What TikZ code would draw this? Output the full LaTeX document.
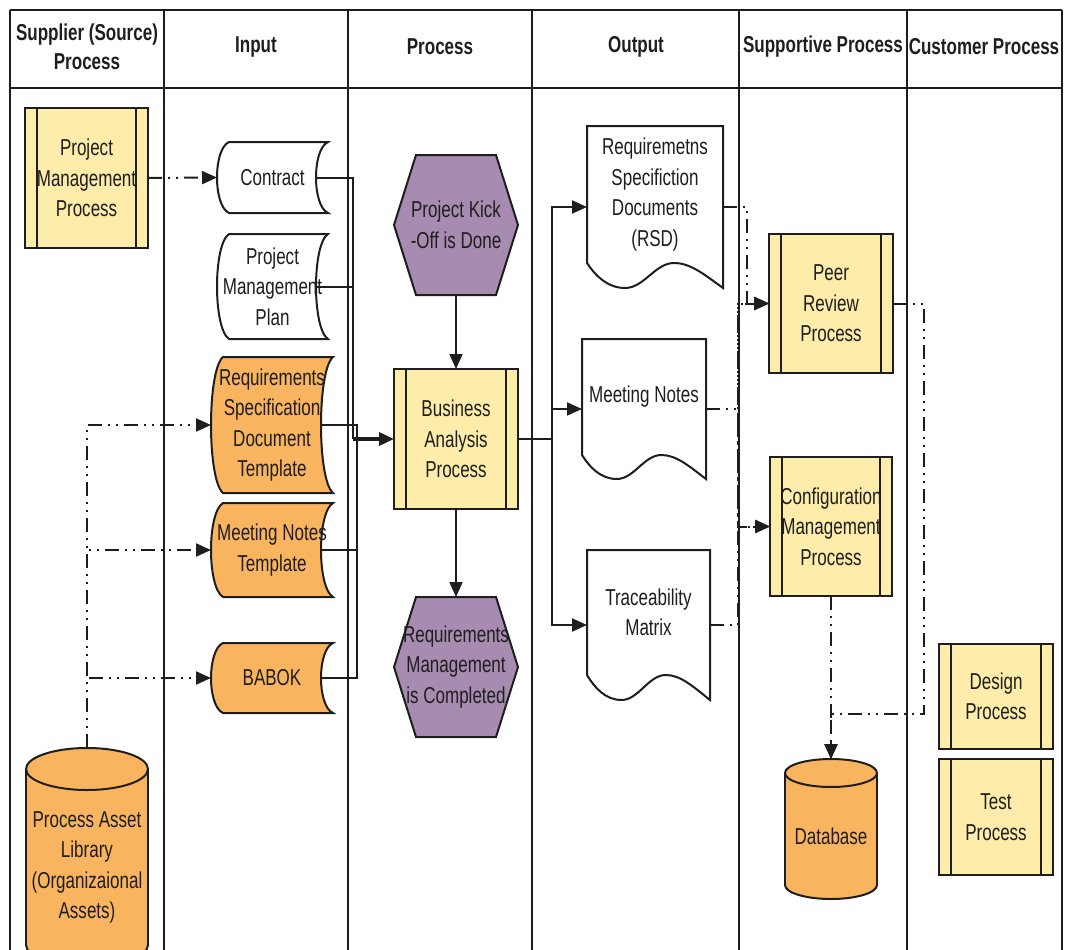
\documentclass[tikz,border=0pt]{standalone}
\usepackage{fontspec}
\setmainfont{Liberation Sans}[FakeStretch=0.74]
\usetikzlibrary{arrows.meta,calc}

\definecolor{subfill}{RGB}{253,236,170}
\definecolor{docorange}{RGB}{249,180,96}
\definecolor{hexpurple}{RGB}{168,139,176}
\definecolor{ink}{RGB}{30,30,30}

\tikzset{
  shapeline/.style={draw=ink, line width=2pt, line join=miter},
  lbl/.style={inner sep=0pt, outer sep=0pt, align=center, text=ink,
    font=\fontsize{23}{30.5}\selectfont},
  lanehead/.style={inner sep=0pt, outer sep=0pt, align=center, text=ink,
    font=\fontsize{23}{29}\selectfont\bfseries},
  lanes/.style={draw=ink, line width=2.2pt},
  wire/.style={draw=ink, line width=2pt},
  flow/.style={wire, -{Triangle[length=15pt,width=13pt]}},
  dd/.style={draw=ink, line width=2pt,
    dash pattern=on 14pt off 6pt on 2pt off 6pt on 2pt off 6pt},
  ddarrow/.style={dd, -{Triangle[length=15pt,width=13pt]}},
}

% subprocess box: name, x1, y1, x2, y2, text
\newcommand\SubProc[6]{%
  \draw[shapeline, fill=subfill] (#2,#3) rectangle (#4,#5);
  \draw[shapeline] ({#2+12},#3) -- ({#2+12},#5) ({#4-12},#3) -- ({#4-12},#5);
  \node[lbl, minimum width={#4-#2}, minimum height={#5-#3}] (#1)
    at ({(#2+#4)/2},{(#3+#5)/2}) {#6};
}
% stored data: name, x1, y1, x2, y2, fill, text
\newcommand\StoreData[7]{%
  \draw[shapeline, fill=#6] ({#2+12},#3) -- (#4,#3)
    .. controls ({#4-16},{#3+0.1*(#5-#3)}) and ({#4-16},{#5-0.1*(#5-#3)}) .. (#4,#5)
    -- ({#2+12},#5)
    .. controls ({#2-4},{#5-0.1*(#5-#3)}) and ({#2-4},{#3+0.1*(#5-#3)}) .. ({#2+12},#3)
    -- cycle;
  \node[lbl, minimum width={#4-#2}, minimum height={#5-#3}] (#1)
    at ({(#2+#4)/2},{(#3+#5)/2}) {#7};
}
% document with wavy bottom: name, x1, y1, x2, y2, wave depth, text
\newcommand\DocShape[7]{%
  \draw[shapeline, fill=white] (#2,#3) -- (#4,#3) -- (#4,#5)
    .. controls ({#2+0.86*(#4-#2)},{#5-0.55*#6}) and ({#2+0.76*(#4-#2)},{#5-#6}) .. ({#2+0.64*(#4-#2)},{#5-#6})
    .. controls ({#2+0.50*(#4-#2)},{#5-#6}) and ({#2+0.42*(#4-#2)},#5) .. ({#2+0.28*(#4-#2)},#5)
    .. controls ({#2+0.15*(#4-#2)},#5) and ({#2+0.06*(#4-#2)},{#5-0.5*#6}) .. (#2,{#5-#6})
    -- cycle;
  \node[lbl, minimum width={#4-#2}, minimum height={#5-#3}] (#1)
    at ({(#2+#4)/2},{(#3+#5)/2}) {};
  \node[lbl] (#1-t) at ({(#2+#4)/2},{(#3+#5-#6)/2}) {#7};
}
% hexagon event: name, x1, y1, x2, y2, text
\newcommand\HexNode[6]{%
  \draw[shapeline, fill=hexpurple] ({#2+22},#3) -- ({#4-22},#3) -- (#4,{(#3+#5)/2})
    -- ({#4-22},#5) -- ({#2+22},#5) -- (#2,{(#3+#5)/2}) -- cycle;
  \node[lbl, minimum width={#4-#2}, minimum height={#5-#3}] (#1)
    at ({(#2+#4)/2},{(#3+#5)/2}) {#6};
}
% database cylinder: name, x1, y1, x2, y2, cap radius, text
\newcommand\CylNode[7]{%
  \draw[shapeline, fill=docorange] ({(#2+#4)/2},{#5-#6}) ellipse [x radius={(#4-#2)/2}, y radius=#6];
  \fill[docorange] (#2,{#3+#6}) rectangle (#4,{#5-#6});
  \draw[shapeline] (#2,{#3+#6}) -- (#2,{#5-#6}) (#4,{#3+#6}) -- (#4,{#5-#6});
  \draw[shapeline, fill=docorange] ({(#2+#4)/2},{#3+#6}) ellipse [x radius={(#4-#2)/2}, y radius=#6];
  \node[lbl, minimum width={#4-#2}, minimum height={#5-#3}] (#1)
    at ({(#2+#4)/2},{(#3+#5)/2}) {};
  \node[lbl] (#1-t) at ({(#2+#4)/2},{(#3+#5+#6)/2}) {#7};
}

\begin{document}
\begin{tikzpicture}[x=1pt, y=-1pt]
\useasboundingbox (0,0) rectangle (1066,950);

% swimlane table
\draw[lanes] (10,10) -- (1062,10) (10,88) -- (1062,88);
\foreach \lx in {10,164,348,532,739,907,1062}
  \draw[lanes] (\lx,10) -- (\lx,960);

\node[lanehead] (h1) at (87,47) {Supplier (Source)\\Process};
\node[lanehead] (h2) at (256,47) {Input};
\node[lanehead] (h3) at (440,47) {Process};
\node[lanehead] (h4) at (636,47) {Output};
\node[lanehead] (h5) at (823,47) {Supportive Process};
\node[lanehead] (h6) at (984,47) {Customer Process};

% supplier lane
\SubProc{pmp}{25}{108}{148}{248}{Project\\Management\\Process}
\CylNode{pal}{26}{748}{148}{966}{21}{Process Asset\\Library\\(Organizaional\\Assets)}

% input lane
\StoreData{contract}{217}{142}{328}{213}{white}{Contract}
\StoreData{pmplan}{217}{234}{328}{339}{white}{Project\\Management\\Plan}
\StoreData{rsdt}{211}{357}{333}{493}{docorange}{Requirements\\Specification\\Document\\Template}
\StoreData{mnt}{211}{503}{333}{597}{docorange}{Meeting Notes\\Template}
\StoreData{babok}{211}{643}{333}{713}{docorange}{BABOK}

% process lane
\HexNode{kick}{394}{155}{518}{295}{Project Kick\\-Off is Done}
\SubProc{bap}{394}{369}{518}{509}{Business\\Analysis\\Process}
\HexNode{rmc}{394}{597}{518}{737}{Requirements\\Management\\is Completed}

% output lane
\DocShape{rsd}{587}{126}{723}{288}{25}{Requiremetns\\Specifiction\\Documents\\(RSD)}
\DocShape{mn}{582}{339}{706}{479}{24}{Meeting Notes}
\DocShape{tm}{587}{550}{710}{700}{25}{Traceability\\Matrix}

% supportive lane
\SubProc{prp}{769}{234}{893}{373}{Peer\\Review\\Process}
\SubProc{cmp}{770}{457}{892}{596}{Configuration\\Management\\Process}
\CylNode{db}{785}{759}{877}{899}{14}{Database}

% customer lane
\SubProc{design}{939}{644}{1053}{749}{Design\\Process}
\SubProc{test}{939}{759}{1053}{875}{Test\\Process}

% bus points
\coordinate (ibusA) at (353,439);
\coordinate (ibusB) at (357,439);
\coordinate (obus) at (552,439);
\coordinate (sA) at (747,0);
\coordinate (sB) at (738,0);
\coordinate (jn) at (924,714);

% inputs into business analysis
\draw[wire] ([xshift=-12pt]contract.east) -| (ibusA);
\draw[wire] ([xshift=-12pt]pmplan.east) -| (ibusA);
\draw[wire] ([xshift=-12pt]rsdt.east) -| (ibusB);
\draw[wire] ([xshift=-12pt]mnt.east) -| (ibusB);
\draw[wire] ([xshift=-12pt]babok.east) -| (ibusB);
\draw[flow, line width=3.5pt] (ibusA) -- (bap.west);

% process chain
\draw[flow] (kick.south) -- (bap.north);
\draw[flow] (bap.south) -- (rmc.north);

% outputs
\draw[flow] (bap.east) -- (obus) |- (rsd.west);
\draw[flow] (bap.east) -- (obus) |- (mn.west);
\draw[flow] (bap.east) -- (obus) |- (tm.west);

% supplier feeds
\draw[ddarrow] (pmp.east) -- (contract.west);
\draw[ddarrow] (pal.north) |- (rsdt.west);
\draw[ddarrow] (pal.north) |- (mnt.west);
\draw[ddarrow] (pal.north) |- (babok.west);

% outputs to supportive processes
\draw[ddarrow] (rsd.east) -| (sA |- prp.west) -- (prp.west);
\draw[ddarrow] (mn.east) -| (sB |- prp.west) -- (prp.west);
\draw[ddarrow] (mn.east) -| (sB |- cmp.west) -- (cmp.west);
\draw[ddarrow] (tm.east) -| (sB |- prp.west) -- (prp.west);
\draw[ddarrow] (tm.east) -| (sB |- cmp.west) -- (cmp.west);

% into the database
\draw[ddarrow] (prp.east) -| (jn) -| (db.north);
\draw[ddarrow] (cmp.south) -- (db.north);
\end{tikzpicture}
\end{document}
